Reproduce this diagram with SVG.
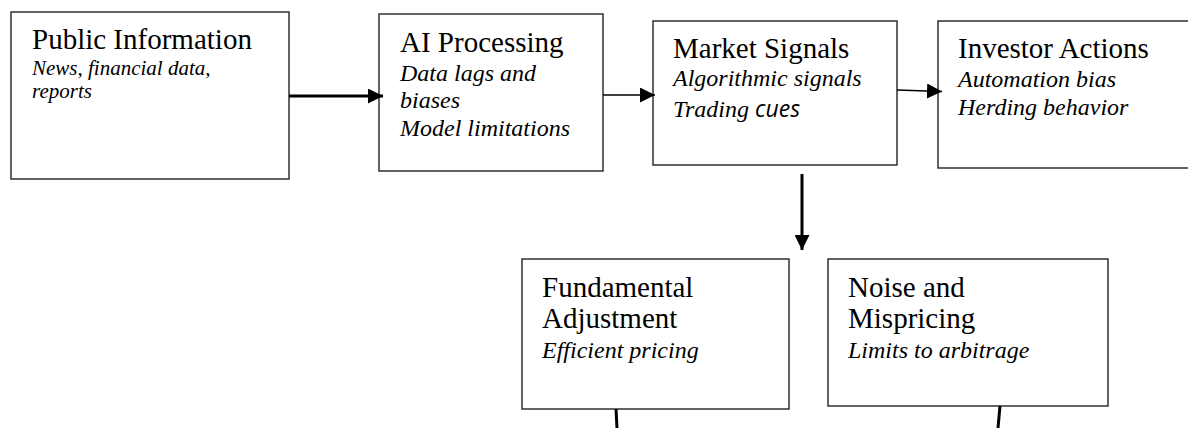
<svg xmlns="http://www.w3.org/2000/svg" width="1188" height="428" viewBox="0 0 1188 428">
<defs>
<style>
.box{fill:#fff;stroke:#222;stroke-width:1.4}
.t{font-family:"Liberation Serif","Times New Roman",serif;font-size:29px;fill:#000}
.s{font-family:"Liberation Serif","Times New Roman",serif;font-size:24px;font-style:italic;fill:#000}
.s1{font-size:21px}
.cue{font-family:"Open Sans","Noto Sans",sans-serif;font-style:italic;font-size:23px}
.thick{stroke:#000;stroke-width:3;fill:none}
.thin{stroke:#000;stroke-width:1.4;fill:none}
</style>
<marker id="ah" markerUnits="userSpaceOnUse" markerWidth="16" markerHeight="15" refX="15" refY="7.5" orient="auto">
<path d="M0,0 L15,7.5 L0,15 z" fill="#000"/>
</marker>
</defs>
<rect width="1188" height="428" fill="#fff"/>
<g id="public-information">
<rect class="box" x="11" y="12" width="278" height="167"/>
<text class="t" x="32" y="49">Public Information</text>
<text class="s s1" x="32" y="75">News, financial data,</text>
<text class="s s1" x="32" y="98">reports</text>
</g>
<g id="ai-processing">
<rect class="box" x="379" y="14" width="224" height="157"/>
<text class="t" x="400" y="52">AI Processing</text>
<text class="s" x="400" y="81">Data lags and</text>
<text class="s" x="400" y="108">biases</text>
<text class="s" x="400" y="136">Model limitations</text>
</g>
<g id="market-signals">
<rect class="box" x="653" y="21" width="244" height="144"/>
<text class="t" x="673" y="58">Market Signals</text>
<text class="s" x="673" y="86">Algorithmic signals</text>
<text class="s" x="673" y="117">Trading <tspan class="cue">cues</tspan></text>
</g>
<g id="investor-actions">
<rect class="box" x="938" y="21" width="260" height="147"/>
<text class="t" x="958" y="58">Investor Actions</text>
<text class="s" x="958" y="87">Automation bias</text>
<text class="s" x="958" y="115">Herding behavior</text>
</g>
<g id="fundamental-adjustment">
<rect class="box" x="522" y="259" width="267" height="150"/>
<text class="t" x="542" y="297">Fundamental</text>
<text class="t" x="542" y="328">Adjustment</text>
<text class="s" x="542" y="358">Efficient pricing</text>
</g>
<g id="noise-mispricing">
<rect class="box" x="828" y="259" width="280" height="147"/>
<text class="t" x="848" y="297">Noise and</text>
<text class="t" x="848" y="328">Mispricing</text>
<text class="s" x="848" y="358">Limits to arbitrage</text>
</g>
<g id="connectors">
<line class="thick" x1="289" y1="96" x2="383" y2="96" marker-end="url(#ah)"/>
<line class="thin" x1="603" y1="95" x2="655" y2="95" marker-end="url(#ah)"/>
<line class="thin" x1="897" y1="90" x2="942" y2="91.5" marker-end="url(#ah)"/>
<line class="thick" x1="802" y1="174" x2="802" y2="250" marker-end="url(#ah)"/>
<line class="thick" x1="616" y1="409" x2="617" y2="428"/>
<line class="thick" x1="1000" y1="406" x2="998" y2="428"/>
</g>
</svg>
